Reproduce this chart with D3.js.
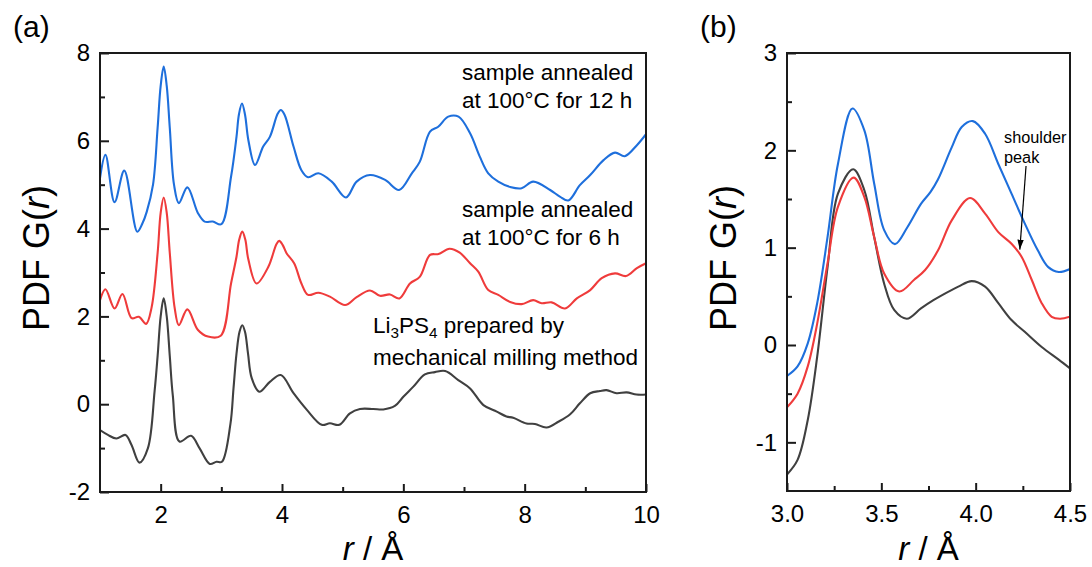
<!DOCTYPE html>
<html>
<head>
<meta charset="utf-8">
<script src="https://cdn.jsdelivr.net/npm/d3@7"></script>
<style>
  body { margin: 0; background: #fff; }
  svg { display: block; }
  text { font-family: "Liberation Sans", Arial, sans-serif; fill: #000; }
</style>
</head>
<body>
<svg id="chart" width="1092" height="567"></svg>
<script>
// ---- Panel (a): full PDF curves, r from 1 to 10 Å ----
const rMilledA = [1.0, 1.13, 1.27, 1.42, 1.52, 1.65, 1.79, 1.90, 1.95, 2.0, 2.05, 2.1, 2.15, 2.2, 2.31, 2.50, 2.64, 2.81, 2.92, 3.01, 3.15, 3.2, 3.25, 3.30, 3.345, 3.39, 3.44, 3.5, 3.625, 3.80, 3.98, 4.19, 4.41, 4.655, 4.79, 4.945, 5.12, 5.285, 5.505, 5.67, 5.86, 6.00, 6.165, 6.355, 6.52, 6.69, 6.905, 7.10, 7.32, 7.54, 7.70, 7.81, 8.03, 8.17, 8.36, 8.555, 8.75, 8.91, 9.08, 9.24, 9.35, 9.515, 9.68, 9.845, 10.0];
const gMilledA = [-0.59, -0.70, -0.78, -0.70, -0.93, -1.33, -1.00, 0.3, 1.1, 2.0, 2.41, 2.0, 1.1, 0.2, -0.85, -0.72, -1.00, -1.36, -1.31, -1.31, -0.45, 0.35, 1.15, 1.65, 1.80, 1.65, 1.15, 0.6, 0.285, 0.51, 0.665, 0.25, -0.13, -0.47, -0.435, -0.47, -0.21, -0.11, -0.11, -0.12, -0.04, 0.17, 0.40, 0.68, 0.73, 0.755, 0.55, 0.36, -0.02, -0.17, -0.28, -0.31, -0.44, -0.45, -0.53, -0.40, -0.23, 0.02, 0.25, 0.30, 0.32, 0.25, 0.27, 0.22, 0.22];

const r6hA = [1.0, 1.09, 1.24, 1.37, 1.52, 1.64, 1.76, 1.85, 1.95, 2.0, 2.05, 2.1, 2.15, 2.23, 2.30, 2.44, 2.615, 2.78, 2.99, 3.16, 3.25, 3.295, 3.345, 3.395, 3.445, 3.58, 3.775, 3.91, 3.955, 4.01, 4.075, 4.20, 4.32, 4.43, 4.60, 4.79, 5.04, 5.23, 5.45, 5.615, 5.78, 5.935, 6.11, 6.27, 6.44, 6.58, 6.76, 6.93, 7.10, 7.235, 7.40, 7.565, 7.76, 7.95, 8.14, 8.28, 8.445, 8.665, 8.86, 9.08, 9.27, 9.49, 9.67, 9.85, 10.0];
const g6hA = [2.37, 2.62, 2.18, 2.51, 1.96, 1.99, 1.83, 2.2, 3.45, 4.36, 4.71, 4.36, 3.45, 2.2, 1.80, 2.16, 1.69, 1.54, 1.56, 2.75, 3.36, 3.75, 3.93, 3.75, 3.3, 2.75, 3.13, 3.65, 3.72, 3.63, 3.44, 3.21, 2.75, 2.49, 2.54, 2.45, 2.26, 2.44, 2.59, 2.47, 2.50, 2.41, 2.75, 2.90, 3.40, 3.42, 3.54, 3.45, 3.21, 3.02, 2.60, 2.49, 2.33, 2.28, 2.37, 2.30, 2.32, 2.18, 2.41, 2.60, 2.87, 2.98, 2.92, 3.10, 3.21];

const r12hA = [1.0, 1.09, 1.24, 1.40, 1.615, 1.70, 1.77, 1.874, 1.95, 2.0, 2.05, 2.1, 2.15, 2.22, 2.30, 2.44, 2.615, 2.725, 2.86, 3.0, 3.16, 3.25, 3.29, 3.34, 3.39, 3.445, 3.555, 3.69, 3.80, 3.93, 3.98, 4.04, 4.19, 4.32, 4.43, 4.60, 4.82, 5.055, 5.23, 5.45, 5.70, 5.93, 6.14, 6.27, 6.44, 6.575, 6.74, 6.91, 7.10, 7.26, 7.40, 7.565, 7.76, 7.95, 8.14, 8.42, 8.58, 8.72, 8.91, 9.08, 9.30, 9.49, 9.65, 9.85, 10.0];
const g12hA = [5.15, 5.68, 4.60, 5.32, 3.93, 4.12, 4.38, 5.0, 6.3, 7.25, 7.69, 7.25, 6.3, 5.0, 4.58, 4.94, 4.35, 4.16, 4.16, 4.10, 5.18, 6.09, 6.6, 6.85, 6.6, 6.02, 5.45, 5.87, 6.09, 6.62, 6.70, 6.6, 5.87, 5.33, 5.17, 5.26, 5.07, 4.71, 5.07, 5.22, 5.11, 4.88, 5.26, 5.52, 6.21, 6.32, 6.55, 6.55, 6.17, 5.64, 5.26, 5.07, 4.95, 4.92, 5.07, 4.88, 4.73, 4.64, 4.99, 5.22, 5.56, 5.73, 5.65, 5.90, 6.15];

// ---- Panel (b): close-up of the 3.0–4.5 Å region ----
const rMilledB = [3.0, 3.056, 3.11, 3.16, 3.215, 3.27, 3.351, 3.41, 3.462, 3.515, 3.568, 3.635, 3.71, 3.776, 3.82, 3.908, 3.979, 4.05, 4.12, 4.19, 4.26, 4.35, 4.44, 4.5];
const gMilledB = [-1.33, -1.18, -0.77, -0.12, 0.80, 1.555, 1.805, 1.59, 1.11, 0.63, 0.36, 0.27, 0.376, 0.46, 0.51, 0.60, 0.656, 0.60, 0.43, 0.256, 0.136, -0.02, -0.15, -0.24];

const r6hB = [3.0, 3.056, 3.11, 3.16, 3.215, 3.27, 3.353, 3.41, 3.462, 3.515, 3.595, 3.674, 3.732, 3.80, 3.873, 3.97, 4.05, 4.12, 4.19, 4.244, 4.297, 4.35, 4.403, 4.447, 4.5];
const g6hB = [-0.64, -0.50, -0.22, 0.22, 0.84, 1.42, 1.72, 1.52, 1.11, 0.735, 0.55, 0.67, 0.77, 0.97, 1.28, 1.51, 1.35, 1.16, 1.04, 0.905, 0.67, 0.43, 0.29, 0.27, 0.29];

const r12hB = [3.0, 3.056, 3.11, 3.16, 3.215, 3.27, 3.347, 3.41, 3.462, 3.515, 3.572, 3.638, 3.71, 3.76, 3.80, 3.873, 3.926, 3.985, 4.05, 4.12, 4.19, 4.26, 4.33, 4.385, 4.44, 4.5];
const g12hB = [-0.318, -0.22, 0.017, 0.43, 1.11, 1.86, 2.43, 2.205, 1.66, 1.18, 1.036, 1.21, 1.45, 1.57, 1.70, 2.03, 2.24, 2.30, 2.17, 1.86, 1.555, 1.25, 0.97, 0.80, 0.75, 0.78];

// ---- tick values ----
const xTicksA = [2, 4, 6, 8, 10];
const xMinorA = [3, 5, 7, 9];
const yTicksA = [-2, 0, 2, 4, 6, 8];
const yMinorA = [-1, 1, 3, 5, 7];
const xTicksB = [3.0, 3.5, 4.0, 4.5];
const xMinorB = [3.25, 3.75, 4.25];
const yTicksB = [-1, 0, 1, 2, 3];
const yMinorB = [-0.5, 0.5, 1.5, 2.5];

const colors = { milled: "#404040", h6: "#ef3b3b", h12: "#1e6fdc" };

const svg = d3.select("#chart");

const defs = svg.append("defs");
defs.append("marker")
  .attr("id", "arrowhead")
  .attr("viewBox", "0 0 10 10")
  .attr("refX", 10).attr("refY", 5)
  .attr("markerWidth", 10).attr("markerHeight", 10)
  .attr("markerUnits", "userSpaceOnUse")
  .attr("orient", "auto")
  .append("path")
  .attr("d", "M0,1.8 L10,5 L0,8.2 Z")
  .attr("fill", "#000");

function zip(rs, gs) { return rs.map((r, i) => [r, gs[i]]); }

function drawPanel(cfg) {
  const x = d3.scaleLinear().domain(cfg.xDomain).range([cfg.left, cfg.right]);
  const y = d3.scaleLinear().domain(cfg.yDomain).range([cfg.bottom, cfg.top]);
  const g = svg.append("g");

  defs.append("clipPath").attr("id", cfg.id + "-clip")
    .append("rect")
    .attr("x", cfg.left).attr("y", cfg.top)
    .attr("width", cfg.right - cfg.left).attr("height", cfg.bottom - cfg.top);

  const line = d3.line()
    .x(d => x(d[0])).y(d => y(d[1]))
    .curve(d3.curveCatmullRom.alpha(0.5));

  const lines = g.append("g").attr("clip-path", `url(#${cfg.id}-clip)`);
  cfg.series.forEach(s => {
    lines.append("path")
      .attr("d", line(zip(s.r, s.g)))
      .attr("fill", "none")
      .attr("stroke", s.color)
      .attr("stroke-width", 2.1)
      .attr("stroke-linejoin", "round");
  });

  // major and minor ticks, pointing into the frame
  const styleAxis = sel => {
    sel.select(".domain").remove();
    sel.selectAll(".tick line").attr("stroke", "#1a1a1a").attr("stroke-width", 2);
    sel.selectAll("text").attr("font-size", 24).attr("font-family", "Liberation Sans, Arial, sans-serif").attr("fill", "#000");
  };

  g.append("g").attr("transform", `translate(0,${cfg.bottom})`)
    .call(d3.axisBottom(x).tickValues(cfg.xTicks).tickSize(-8).tickPadding(14).tickFormat(cfg.xFormat))
    .call(styleAxis);
  g.append("g").attr("transform", `translate(0,${cfg.bottom})`)
    .call(d3.axisBottom(x).tickValues(cfg.xMinor).tickSize(-5).tickFormat(""))
    .call(styleAxis);
  g.append("g").attr("transform", `translate(${cfg.left},0)`)
    .call(d3.axisLeft(y).tickValues(cfg.yTicks).tickSize(-9).tickPadding(10).tickFormat(d => String(d)))
    .call(styleAxis);
  g.append("g").attr("transform", `translate(${cfg.left},0)`)
    .call(d3.axisLeft(y).tickValues(cfg.yMinor).tickSize(-5).tickFormat(""))
    .call(styleAxis);

  // frame
  g.append("rect")
    .attr("x", cfg.left).attr("y", cfg.top)
    .attr("width", cfg.right - cfg.left).attr("height", cfg.bottom - cfg.top)
    .attr("fill", "none").attr("stroke", "#1a1a1a").attr("stroke-width", 2);

  // panel letter
  g.append("text").attr("x", cfg.left - 87).attr("y", 37)
    .attr("font-size", 30).text(cfg.letter);

  // y title: PDF G(r)
  const yt = g.append("text")
    .attr("transform", `translate(${cfg.left - 51},258) rotate(-90)`)
    .attr("text-anchor", "middle")
    .attr("font-size", 36);
  yt.append("tspan").text("PDF G(");
  yt.append("tspan").attr("font-style", "italic").text("r");
  yt.append("tspan").text(")");

  // x title: r / Å
  const xt = g.append("text")
    .attr("x", (cfg.left + cfg.right) / 2).attr("y", 560)
    .attr("text-anchor", "middle")
    .attr("font-size", 33);
  xt.append("tspan").attr("font-style", "italic").text("r");
  xt.append("tspan").text(" / Å");

  return { x, y, g };
}

const pa = drawPanel({
  id: "pa", letter: "(a)",
  left: 100, right: 646, top: 53, bottom: 492,
  xDomain: [1, 10], yDomain: [-2, 8],
  xTicks: xTicksA, xMinor: xMinorA, yTicks: yTicksA, yMinor: yMinorA,
  xFormat: d => String(d),
  series: [
    { r: rMilledA, g: gMilledA, color: colors.milled },
    { r: r6hA, g: g6hA, color: colors.h6 },
    { r: r12hA, g: g12hA, color: colors.h12 }
  ]
});

const pb = drawPanel({
  id: "pb", letter: "(b)",
  left: 787, right: 1070, top: 53, bottom: 491,
  xDomain: [3, 4.5], yDomain: [-1.5, 3],
  xTicks: xTicksB, xMinor: xMinorB, yTicks: yTicksB, yMinor: yMinorB,
  xFormat: d3.format(".1f"),
  series: [
    { r: rMilledB, g: gMilledB, color: colors.milled },
    { r: r6hB, g: g6hB, color: colors.h6 },
    { r: r12hB, g: g12hB, color: colors.h12 }
  ]
});

// sample labels in panel (a)
function label(g, x, y, lines, size, gap) {
  const t = g.append("text").attr("font-size", size);
  lines.forEach((ln, i) => {
    const row = t.append("tspan").attr("x", x).attr("y", y + i * gap);
    ln.forEach(part => {
      const sp = row.append("tspan").text(part.t);
      if (part.sub) sp.attr("font-size", size * 0.68).attr("dy", 5);
      if (part.up) sp.attr("dy", -5);
    });
  });
}

label(pa.g, 462, 80, [[{ t: "sample annealed" }], [{ t: "at 100°C for 12 h" }]], 22.5, 28);
label(pa.g, 462, 217, [[{ t: "sample annealed" }], [{ t: "at 100°C for 6 h" }]], 22.5, 28);
label(pa.g, 373, 333, [
  [{ t: "Li" }, { t: "3", sub: true }, { t: "PS", up: true }, { t: "4", sub: true }, { t: " prepared by", up: true }],
  [{ t: "mechanical milling method" }]
], 22.5, 32);

// shoulder-peak note with arrow in panel (b)
label(pb.g, 1004, 143, [[{ t: "shoulder" }], [{ t: "peak" }]], 16.3, 20);
pb.g.append("line")
  .attr("x1", pb.x(4.267)).attr("y1", 166)
  .attr("x2", pb.x(4.234)).attr("y2", pb.y(0.98))
  .attr("stroke", "#000").attr("stroke-width", 1.2)
  .attr("marker-end", "url(#arrowhead)");
</script>
</body>
</html>
